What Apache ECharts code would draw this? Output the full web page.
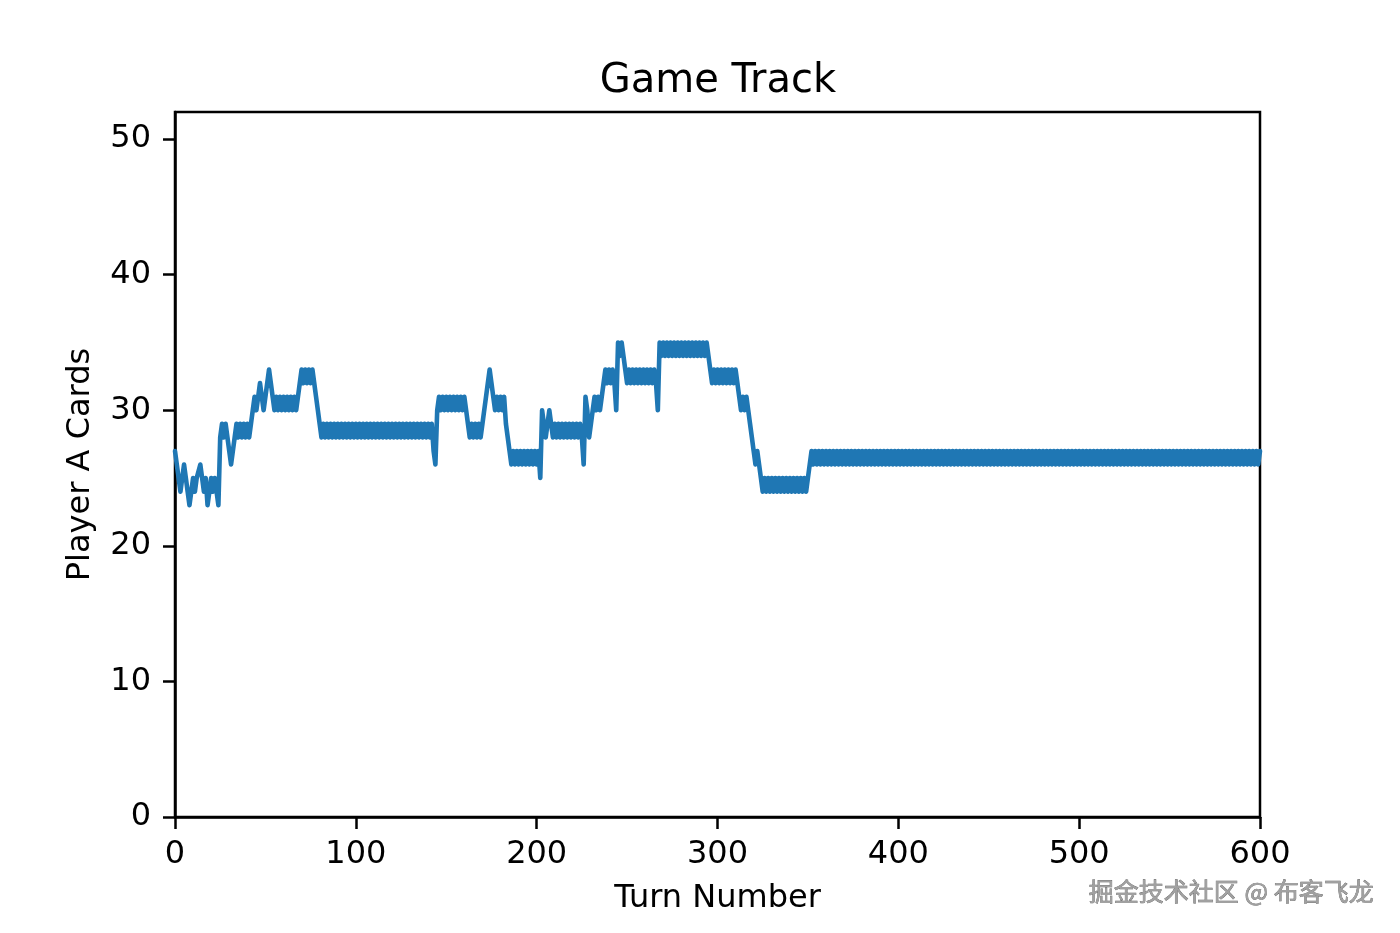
<!DOCTYPE html>
<html>
<head>
<meta charset="utf-8">
<script src="https://cdn.jsdelivr.net/npm/echarts@6/dist/echarts.min.js"></script>
<style>
html,body{margin:0;padding:0;background:#fff;}
#chart{width:1400px;height:933px;}
</style>
</head>
<body>
<div id="chart"></div>
<script>
// Player A card count per turn (turns 0..600)
var cards0to99 = [
  27,26,25,24,25,26,25,24,23,24, 25,24,25,25,26,25,24,25,23,24,
  25,24,25,24,23,28,29,28,29,28, 27,26,27,28,29,28,29,28,29,28,
  29,28,29,30,31,30,31,32,31,30, 31,32,33,32,31,30,31,30,31,30,
  31,30,31,30,31,30,31,30,31,32, 33,32,33,32,33,32,33,32,31,30,
  29,28,29,28,29,28,29,28,29,28, 29,28,29,28,29,28,29,28,29,28
];
var cards100to199 = [
  29,28,29,28,29,28,29,28,29,28, 29,28,29,28,29,28,29,28,29,28,
  29,28,29,28,29,28,29,28,29,28, 29,28,29,28,29,28,29,28,29,28,
  29,28,29,27,26,30,31,30,31,30, 31,30,31,30,31,30,31,30,31,30,
  31,30,29,28,29,28,29,28,29,28, 29,30,31,32,33,32,31,30,31,30,
  31,30,31,29,28,27,26,27,26,27, 26,27,26,27,26,27,26,27,26,27
];
var cards200to299 = [
  26,27,25,30,29,28,29,30,29,28, 29,28,29,28,29,28,29,28,29,28,
  29,28,29,28,29,28,26,31,30,28, 29,30,31,30,31,30,31,32,33,32,
  33,32,33,32,30,35,34,35,34,33, 32,33,32,33,32,33,32,33,32,33,
  32,33,32,33,32,33,32,30,35,34, 35,34,35,34,35,34,35,34,35,34,
  35,34,35,34,35,34,35,34,35,34, 35,34,35,34,35,34,33,32,33,32
];
var cards300to399 = [
  33,32,33,32,33,32,33,32,33,32, 33,32,31,30,31,30,31,30,29,28,
  27,26,27,26,25,24,25,24,25,24, 25,24,25,24,25,24,25,24,25,24,
  25,24,25,24,25,24,25,24,25,24, 25,26,27,26,27,26,27,26,27,26,
  27,26,27,26,27,26,27,26,27,26, 27,26,27,26,27,26,27,26,27,26,
  27,26,27,26,27,26,27,26,27,26, 27,26,27,26,27,26,27,26,27,26
];
var cards400to499 = [
  27,26,27,26,27,26,27,26,27,26, 27,26,27,26,27,26,27,26,27,26,
  27,26,27,26,27,26,27,26,27,26, 27,26,27,26,27,26,27,26,27,26,
  27,26,27,26,27,26,27,26,27,26, 27,26,27,26,27,26,27,26,27,26,
  27,26,27,26,27,26,27,26,27,26, 27,26,27,26,27,26,27,26,27,26,
  27,26,27,26,27,26,27,26,27,26, 27,26,27,26,27,26,27,26,27,26
];
var cards500to600 = [
  27,26,27,26,27,26,27,26,27,26, 27,26,27,26,27,26,27,26,27,26,
  27,26,27,26,27,26,27,26,27,26, 27,26,27,26,27,26,27,26,27,26,
  27,26,27,26,27,26,27,26,27,26, 27,26,27,26,27,26,27,26,27,26,
  27,26,27,26,27,26,27,26,27,26, 27,26,27,26,27,26,27,26,27,26,
  27,26,27,26,27,26,27,26,27,26, 27,26,27,26,27,26,27,26,27,26,
  27
];
var xTicks = [0, 100, 200, 300, 400, 500, 600];
var yTicks = [0, 10, 20, 30, 40, 50];
var titleText = 'Game Track';
var xName = 'Turn Number';
var yName = 'Player A Cards';
var watermark = '掘金技术社区 @ 布客飞龙';

var cards = [].concat(cards0to99, cards100to199, cards200to299, cards300to399, cards400to499, cards500to600);
var seriesData = cards.map(function (v, i) { return [i, v]; });

var FONT = 'DejaVu Sans';
var chart = echarts.init(document.getElementById('chart'), null, {renderer: 'canvas'});
chart.setOption({
  backgroundColor: '#ffffff',
  animation: false,
  title: {
    text: titleText,
    left: 713, top: 57, textAlign: 'center',
    textStyle: {fontFamily: FONT, fontSize: 40, fontWeight: 'normal', color: '#000'}
  },
  grid: {
    left: 175, right: 140, top: 112, bottom: 116,
    show: true, borderColor: '#000', borderWidth: 2.5, backgroundColor: 'transparent'
  },
  xAxis: {
    type: 'value', min: 0, max: 600, interval: 100,
    name: xName, nameLocation: 'middle', nameGap: 66,
    nameTextStyle: {fontFamily: FONT, fontSize: 32, color: '#000'},
    axisLine: {show: true, onZero: false, lineStyle: {color: '#000', width: 2.5}},
    axisTick: {show: true, length: 12, lineStyle: {color: '#000', width: 2.5}, customValues: xTicks},
    axisLabel: {fontFamily: FONT, fontSize: 32, color: '#000', margin: 22, customValues: xTicks},
    splitLine: {show: false}
  },
  yAxis: {
    type: 'value', min: 0, max: 52, interval: 10,
    name: yName, nameLocation: 'middle', nameGap: 78,
    nameTextStyle: {fontFamily: FONT, fontSize: 32, color: '#000'},
    axisLine: {show: true, onZero: false, lineStyle: {color: '#000', width: 2.5}},
    axisTick: {show: true, length: 12, lineStyle: {color: '#000', width: 2.5}, customValues: yTicks},
    axisLabel: {fontFamily: FONT, fontSize: 32, color: '#000', margin: 24, padding: [4, 0, 0, 0], customValues: yTicks},
    splitLine: {show: false}
  },
  series: [{
    type: 'line',
    data: seriesData,
    showSymbol: false,
    symbol: 'none',
    lineStyle: {color: '#1f77b4', width: 4.6, join: 'round', cap: 'round'},
    itemStyle: {color: '#1f77b4'},
    silent: true
  }],
  graphic: [{
    type: 'text',
    right: 26, top: 879,
    style: {
      text: watermark,
      font: '25px "Noto Sans CJK SC"',
      fill: '#a0a0a0',
      stroke: '#555',
      lineWidth: 0.6,
      shadowColor: 'rgba(0,0,0,0.35)',
      shadowBlur: 1,
      shadowOffsetX: 1,
      shadowOffsetY: 1
    }
  }]
});
</script>
</body>
</html>
